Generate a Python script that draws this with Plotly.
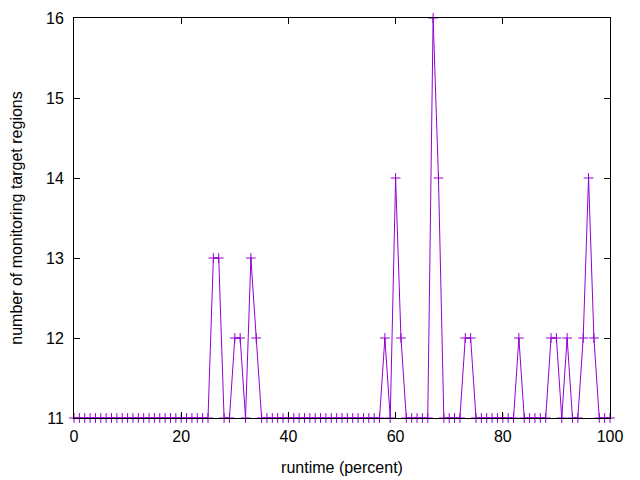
import plotly.graph_objects as go

# runtime in percent, one sample per percent
runtime = list(range(0, 101))

# number of monitoring target regions at each runtime sample
regions = [
    11, 11, 11, 11, 11, 11, 11, 11, 11, 11,   # 0-9
    11, 11, 11, 11, 11, 11, 11, 11, 11, 11,   # 10-19
    11, 11, 11, 11, 11, 11, 13, 13, 11, 11,   # 20-29
    12, 12, 11, 13, 12, 11, 11, 11, 11, 11,   # 30-39
    11, 11, 11, 11, 11, 11, 11, 11, 11, 11,   # 40-49
    11, 11, 11, 11, 11, 11, 11, 11, 12, 11,   # 50-59
    14, 12, 11, 11, 11, 11, 11, 16, 14, 11,   # 60-69
    11, 11, 11, 12, 12, 11, 11, 11, 11, 11,   # 70-79
    11, 11, 11, 12, 11, 11, 11, 11, 11, 12,   # 80-89
    12, 11, 12, 11, 11, 12, 14, 12, 11, 11,   # 90-99
    11,                                       # 100
]

x_ticks = [0, 20, 40, 60, 80, 100]
y_ticks = [11, 12, 13, 14, 15, 16]

LINE_COLOR = "#9400d3"
FONT = "Liberation Sans, Arial, sans-serif"

fig = go.Figure()

fig.add_trace(go.Scatter(
    x=runtime,
    y=regions,
    mode="lines+markers",
    line=dict(color=LINE_COLOR, width=1),
    marker=dict(symbol="cross-thin", size=7, line=dict(color=LINE_COLOR, width=1)),
    cliponaxis=False,
    showlegend=False,
))

axis_common = dict(
    showline=True,
    linecolor="black",
    linewidth=1,
    mirror="allticks",
    ticks="inside",
    ticklen=6,
    tickcolor="black",
    showgrid=False,
    zeroline=False,
    automargin=False,
    tickfont=dict(family=FONT, size=16, color="black"),
)

# the page body adds an 8px offset, so margins are shifted to compensate
fig.update_layout(
    width=640,
    height=480,
    margin=dict(l=66, r=38, t=10, b=70),
    plot_bgcolor="white",
    paper_bgcolor="white",
    font=dict(family=FONT, size=16, color="black"),
    xaxis=dict(
        range=[0, 100],
        tickvals=x_ticks,
        ticklabelstandoff=4,
        title=dict(text="runtime (percent)", font=dict(family=FONT, size=16), standoff=17),
        **axis_common,
    ),
    yaxis=dict(
        range=[11, 16],
        tickvals=y_ticks,
        ticklabelstandoff=6,
        title=dict(text="number of monitoring target regions", font=dict(family=FONT, size=16), standoff=22),
        **axis_common,
    ),
)

fig.write_html("out.html")
